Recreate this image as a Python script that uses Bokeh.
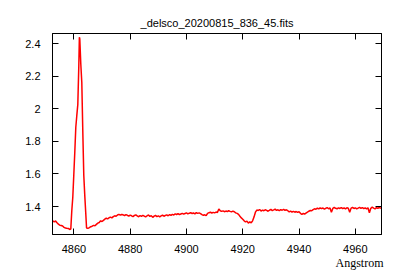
from bokeh.plotting import figure
from bokeh.models import LinearAxis, FixedTicker, CustomJSTickFormatter, Range1d, Title
from bokeh.embed import file_html
from bokeh.resources import INLINE

title_text = "_delsco_20200815_836_45.fits"
x_label = "Angstrom"

# pre-peak continuum
wave_pre = [4852.5, 4853.0, 4853.5, 4854.0, 4854.5, 4855.0, 4855.5, 4856.0,
            4856.5, 4857.0, 4857.5, 4858.0, 4858.5, 4858.9]
flux_pre = [1.312, 1.306, 1.311, 1.300, 1.292, 1.285, 1.283, 1.280,
            1.272, 1.268, 1.266, 1.265, 1.259, 1.262]

# H-beta emission peak
wave_peak = [4859.26, 4859.61, 4859.97, 4860.32, 4860.68, 4861.03, 4861.39, 4861.74,
             4861.95, 4862.10, 4862.45, 4862.81, 4863.16, 4863.52, 4863.87, 4864.2]
flux_peak = [1.375, 1.457, 1.596, 1.733, 1.887, 1.958, 2.026, 2.259,
             2.440, 2.429, 2.277, 2.163, 1.866, 1.590, 1.467, 1.365]

# continuum 4864.5 .. 4969.5 in 0.5 A steps
wave_start = 4864.5
wave_step = 0.5
flux_cont = [
    1.268, 1.266, 1.270, 1.276, 1.279, 1.284, 1.282, 1.290, 1.298, 1.302,
    1.312, 1.308, 1.315, 1.322, 1.328, 1.324, 1.331, 1.335, 1.330, 1.338,
    1.343, 1.340, 1.348, 1.352, 1.347, 1.351, 1.349, 1.344, 1.350, 1.346,
    1.341, 1.347, 1.343, 1.338, 1.345, 1.349, 1.342, 1.337, 1.344, 1.340,
    1.346, 1.341, 1.336, 1.343, 1.348, 1.339, 1.344, 1.333, 1.341, 1.345,
    1.338, 1.343, 1.336, 1.342, 1.347, 1.340, 1.345, 1.349, 1.343, 1.350,
    1.346, 1.352, 1.348, 1.355, 1.351, 1.356, 1.350, 1.354, 1.358, 1.353,
    1.357, 1.361, 1.355, 1.359, 1.362, 1.357, 1.360, 1.355, 1.362, 1.358,
    1.361, 1.356, 1.350, 1.346, 1.349, 1.344, 1.358, 1.362, 1.365, 1.360,
    1.364, 1.361, 1.366, 1.363, 1.385, 1.374, 1.370, 1.373, 1.368, 1.372,
    1.369, 1.374, 1.370, 1.367, 1.372, 1.368, 1.361, 1.358, 1.352, 1.340,
    1.330, 1.322, 1.312, 1.305, 1.310, 1.298, 1.306, 1.300, 1.312, 1.335,
    1.365, 1.378, 1.376, 1.381, 1.372, 1.378, 1.374, 1.380, 1.376, 1.371,
    1.377, 1.382, 1.375, 1.379, 1.384, 1.376, 1.380, 1.374, 1.381, 1.377,
    1.383, 1.376, 1.380, 1.374, 1.367, 1.372, 1.366, 1.370, 1.365, 1.369,
    1.364, 1.368, 1.358, 1.352, 1.357, 1.353, 1.360, 1.365, 1.371, 1.376,
    1.374, 1.381, 1.386, 1.383, 1.390, 1.385, 1.392, 1.387, 1.391, 1.384,
    1.389, 1.393, 1.386, 1.391, 1.365, 1.388, 1.394, 1.389, 1.386, 1.392,
    1.388, 1.393, 1.387, 1.391, 1.385, 1.392, 1.389, 1.364, 1.390, 1.394,
    1.388, 1.392, 1.386, 1.390, 1.395, 1.389, 1.393, 1.387, 1.391, 1.385,
    1.392, 1.362, 1.389, 1.396, 1.390, 1.385, 1.393, 1.388, 1.394, 1.390,
    1.392,
]
wave_cont = [wave_start + i * wave_step for i in range(len(flux_cont))]

wave = wave_pre + wave_peak + wave_cont
flux = flux_pre + flux_peak + flux_cont

x_ticks = [4860, 4880, 4900, 4920, 4940, 4960]
y_ticks = [1.4, 1.6, 1.8, 2.0, 2.2, 2.4]

FONT = "Liberation Sans"

p = figure(width=400, height=280, output_backend="svg", toolbar_location=None,
           x_range=Range1d(4852.4, 4969.3), y_range=Range1d(1.228, 2.463),
           min_border_left=52, min_border_right=19, min_border_top=33,
           min_border_bottom=46, x_axis_location=None, y_axis_location=None)
p.grid.visible = False
p.background_fill_color = "white"
p.border_fill_color = "white"
p.outline_line_color = "black"
p.outline_line_width = 1

p.title.text = title_text
p.title.align = "center"
p.title.text_font = FONT
p.title.text_font_size = "11px"
p.title.text_font_style = "normal"
p.title.text_color = "black"

fmt_x = CustomJSTickFormatter(code="return String(Math.round(tick));")
fmt_y = CustomJSTickFormatter(code="return String(Math.round(tick*10)/10);")
fmt_none = CustomJSTickFormatter(code="return '';")

def style(ax, labels=True):
    ax.major_tick_in = 6
    ax.major_tick_out = 0
    ax.minor_tick_in = 0
    ax.minor_tick_out = 0
    ax.axis_line_color = "black"
    ax.major_tick_line_color = "black"
    ax.major_label_text_font = FONT
    ax.major_label_text_font_size = "11px"
    ax.major_label_text_color = "black"
    if not labels:
        ax.major_label_standoff = 0
        ax.major_label_text_font_size = "1px"

bx = LinearAxis(ticker=FixedTicker(ticks=x_ticks), formatter=fmt_x)
style(bx); bx.major_label_standoff = 10
p.add_layout(bx, "below")
lx = LinearAxis(ticker=FixedTicker(ticks=y_ticks), formatter=fmt_y)
style(lx); lx.major_label_standoff = 12
p.add_layout(lx, "left")
tx = LinearAxis(ticker=FixedTicker(ticks=x_ticks), formatter=fmt_none)
style(tx, False)
p.add_layout(tx, "above")
rx = LinearAxis(ticker=FixedTicker(ticks=y_ticks), formatter=fmt_none)
style(rx, False)
p.add_layout(rx, "right")

p.line(wave, flux, line_color="#ff0000", line_width=1.5)

xt = Title(text=x_label, align="right", text_font="Liberation Serif",
           text_font_size="12px", text_font_style="normal", text_color="black",
           offset=-2, standoff=-4)
p.add_layout(xt, "below")

open("out.html", "w").write(file_html(p, INLINE))
